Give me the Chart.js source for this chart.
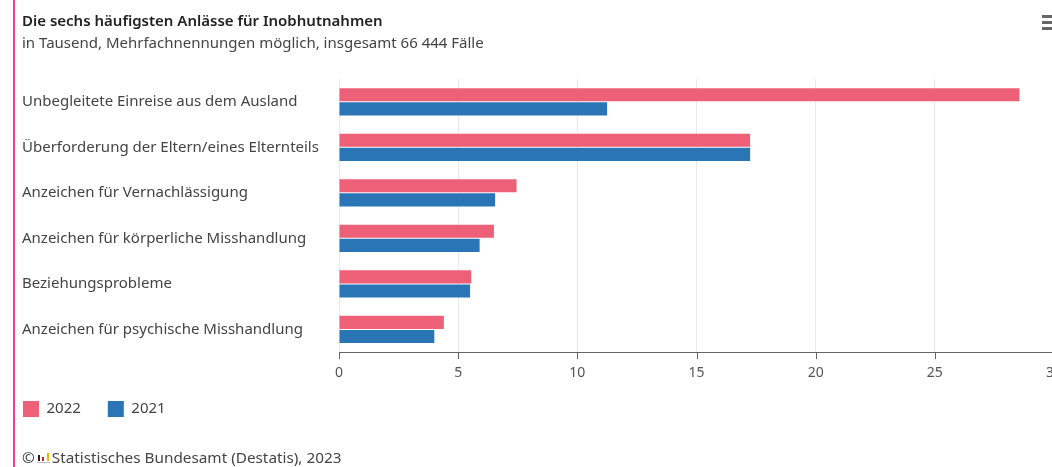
<!DOCTYPE html>
<html lang="de">
<head>
<meta charset="utf-8">
<title>Inobhutnahmen</title>
<script src="https://cdn.jsdelivr.net/npm/chart.js@4/dist/chart.umd.min.js"></script>
<style>
  html, body { margin: 0; padding: 0; background: #fff; overflow: hidden; width: 1052px; height: 467px; }
  #rule { position: absolute; left: 13px; top: 0; width: 2px; height: 467px; background: #f8399a; }
  #box { position: absolute; left: 0; top: 0; width: 1100px; height: 467px; }
  #menu { position: absolute; left: 1042px; top: 15px; width: 10px; height: 15px; }
  #menu i { display: block; height: 3px; margin-bottom: 3px; background: #666; }
  #source { position: absolute; left: 22px; top: 447px; font: 15.3px "Noto Sans", sans-serif; color: #444; white-space: nowrap; }
  #source svg { vertical-align: -1px; margin: 0 2px 0 2px; }
</style>
</head>
<body>
<div id="rule"></div>
<div id="box"><canvas id="chart"></canvas></div>
<div id="menu"><i></i><i></i><i></i></div>
<div id="source">©<svg width="13" height="12" viewBox="0 0 13 12"><rect x="1" y="3" width="2" height="6" fill="#222"/><rect x="5" y="5" width="2" height="4" fill="#c8281e"/><rect x="10" y="1" width="2" height="8" fill="#f0b400"/><rect x="0" y="10" width="13" height="1" fill="#bbb"/></svg>Statistisches Bundesamt (Destatis), 2023</div>
<script>
const categories = [
  "Unbegleitete Einreise aus dem Ausland",
  "Überforderung der Eltern/eines Elternteils",
  "Anzeichen für Vernachlässigung",
  "Anzeichen für körperliche Misshandlung",
  "Beziehungsprobleme",
  "Anzeichen für psychische Misshandlung"
];
const values2022 = [28.55, 17.25, 7.45, 6.5, 5.55, 4.4];
const values2021 = [11.25, 17.25, 6.55, 5.9, 5.5, 4.0];
const xTicks = [0, 5, 10, 15, 20, 25, 30];

const fontFamily = '"Noto Sans", sans-serif';
const pink = "#ee6077";
const blue = "#2a75b5";

new Chart(document.getElementById("chart"), {
  type: "bar",
  data: {
    labels: categories,
    datasets: [
      { label: "2022", data: values2022, backgroundColor: pink, categoryPercentage: 0.62, barPercentage: 0.93 },
      { label: "2021", data: values2021, backgroundColor: blue, categoryPercentage: 0.62, barPercentage: 0.93 }
    ]
  },
  options: {
    indexAxis: "y",
    responsive: true,
    maintainAspectRatio: false,
    animation: false,
    layout: { padding: { left: 22, right: 46, top: 13, bottom: 21 } },
    scales: {
      x: {
        min: 0,
        max: 30,
        afterBuildTicks(axis) { axis.ticks = xTicks.map(value => ({ value })); },
        grid: { color: "#e9e9e9", lineWidth: 1, drawTicks: false },
        border: { display: true, color: "#666", width: 1 },
        ticks: { color: "#555", font: { family: fontFamily, size: 14 }, padding: 12, maxRotation: 0 }
      },
      y: {
        afterFit(axis) { axis.width = 317; },
        grid: { display: false },
        border: { display: false },
        ticks: { crossAlign: "far", color: "#444", font: { family: fontFamily, size: 15 }, padding: 10 }
      }
    },
    plugins: {
      title: {
        display: true, text: "Die sechs häufigsten Anlässe für Inobhutnahmen", align: "start",
        color: "#222", font: { family: fontFamily, size: 15, weight: "600" }, padding: { top: 0, bottom: 4 }
      },
      subtitle: {
        display: true, text: "in Tausend, Mehrfachnennungen möglich, insgesamt 66 444 Fälle", align: "start",
        color: "#444", font: { family: fontFamily, size: 15 }, padding: { top: 0, bottom: 26 }
      },
      legend: {
        position: "bottom", align: "start",
        labels: { boxWidth: 16, boxHeight: 16, color: "#444", font: { family: fontFamily, size: 15 }, padding: 27 }
      },
      tooltip: { enabled: false }
    }
  },
  plugins: [{
    // Pull the legend flush with the labels and up towards the axis
    id: "legendPlacement",
    afterLayout(chart) {
      chart.legend.left = -4;
      chart.legend.top -= 19;
    }
  }, {
    // Short tick marks beneath the value axis
    id: "axisTicks",
    afterDraw(chart) {
      const { ctx, scales: { x } } = chart;
      ctx.save();
      ctx.strokeStyle = "#666";
      ctx.beginPath();
      xTicks.forEach(v => {
        const px = Math.round(x.getPixelForValue(v)) + 0.5;
        ctx.moveTo(px, x.top);
        ctx.lineTo(px, x.top + 7);
      });
      ctx.stroke();
      ctx.restore();
    }
  }]
});
</script>
</body>
</html>
